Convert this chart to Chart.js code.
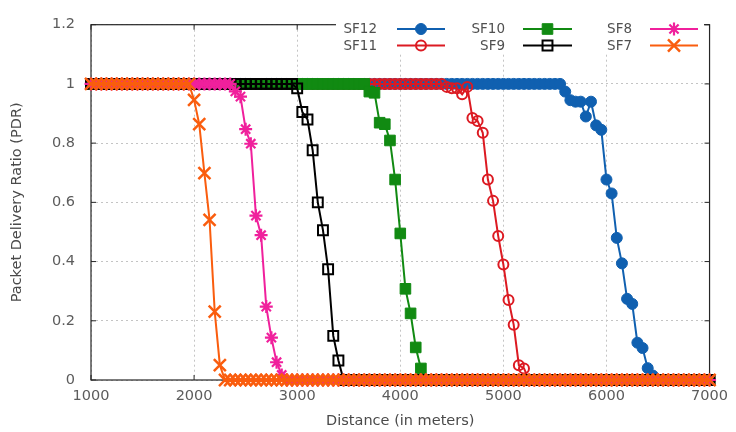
<!DOCTYPE html>
<html>
<head>
<meta charset="utf-8">
<script src="https://cdn.jsdelivr.net/npm/chart.js@4/dist/chart.umd.min.js"></script>
<style>
  html, body { margin: 0; padding: 0; background: #ffffff; }
  #wrap { width: 736px; height: 432px; }
</style>
</head>
<body>
<div id="wrap"><canvas id="pdr" width="736" height="432"></canvas></div>
<script>
// Distance from the gateway (m), one sample every 50 m
const distance = [
  1000, 1050, 1100, 1150, 1200, 1250, 1300, 1350, 1400, 1450,
  1500, 1550, 1600, 1650, 1700, 1750, 1800, 1850, 1900, 1950,
  2000, 2050, 2100, 2150, 2200, 2250, 2300, 2350, 2400, 2450,
  2500, 2550, 2600, 2650, 2700, 2750, 2800, 2850, 2900, 2950,
  3000, 3050, 3100, 3150, 3200, 3250, 3300, 3350, 3400, 3450,
  3500, 3550, 3600, 3650, 3700, 3750, 3800, 3850, 3900, 3950,
  4000, 4050, 4100, 4150, 4200, 4250, 4300, 4350, 4400, 4450,
  4500, 4550, 4600, 4650, 4700, 4750, 4800, 4850, 4900, 4950,
  5000, 5050, 5100, 5150, 5200, 5250, 5300, 5350, 5400, 5450,
  5500, 5550, 5600, 5650, 5700, 5750, 5800, 5850, 5900, 5950,
  6000, 6050, 6100, 6150, 6200, 6250, 6300, 6350, 6400, 6450,
  6500, 6550, 6600, 6650, 6700, 6750, 6800, 6850, 6900, 6950,
  7000
];

// Packet delivery ratio per spreading factor
const pdrSF12 = [
  1, 1, 1, 1, 1, 1, 1, 1, 1, 1,
  1, 1, 1, 1, 1, 1, 1, 1, 1, 1,
  1, 1, 1, 1, 1, 1, 1, 1, 1, 1,
  1, 1, 1, 1, 1, 1, 1, 1, 1, 1,
  1, 1, 1, 1, 1, 1, 1, 1, 1, 1,
  1, 1, 1, 1, 1, 1, 1, 1, 1, 1,
  1, 1, 1, 1, 1, 1, 1, 1, 1, 1,
  1, 1, 1, 1, 1, 1, 1, 1, 1, 1,
  1, 1, 1, 1, 1, 1, 1, 1, 1, 1,
  1, 1, 0.974, 0.945, 0.94, 0.94, 0.89, 0.94, 0.86, 0.845,
  0.677, 0.63, 0.48, 0.394, 0.274, 0.257, 0.126, 0.108, 0.04, 0.015,
  0, 0, 0, 0, 0, 0, 0, 0, 0, 0,
  0
];
const pdrSF11 = [
  1, 1, 1, 1, 1, 1, 1, 1, 1, 1,
  1, 1, 1, 1, 1, 1, 1, 1, 1, 1,
  1, 1, 1, 1, 1, 1, 1, 1, 1, 1,
  1, 1, 1, 1, 1, 1, 1, 1, 1, 1,
  1, 1, 1, 1, 1, 1, 1, 1, 1, 1,
  1, 1, 1, 1, 1, 1, 1, 1, 1, 1,
  1, 1, 1, 1, 1, 1, 1, 1, 1, 0.99,
  0.985, 0.985, 0.965, 0.99, 0.885, 0.875, 0.835, 0.677, 0.605, 0.486,
  0.39, 0.27, 0.187, 0.05, 0.039, 0, 0, 0, 0, 0,
  0, 0, 0, 0, 0, 0, 0, 0, 0, 0,
  0, 0, 0, 0, 0, 0, 0, 0, 0, 0,
  0, 0, 0, 0, 0, 0, 0, 0, 0, 0,
  0
];
const pdrSF10 = [
  1, 1, 1, 1, 1, 1, 1, 1, 1, 1,
  1, 1, 1, 1, 1, 1, 1, 1, 1, 1,
  1, 1, 1, 1, 1, 1, 1, 1, 1, 1,
  1, 1, 1, 1, 1, 1, 1, 1, 1, 1,
  1, 1, 1, 1, 1, 1, 1, 1, 1, 1,
  1, 1, 1, 1, 0.974, 0.97, 0.869, 0.864, 0.809, 0.677,
  0.495, 0.308, 0.225, 0.11, 0.039, 0, 0, 0, 0, 0,
  0, 0, 0, 0, 0, 0, 0, 0, 0, 0,
  0, 0, 0, 0, 0, 0, 0, 0, 0, 0,
  0, 0, 0, 0, 0, 0, 0, 0, 0, 0,
  0, 0, 0, 0, 0, 0, 0, 0, 0, 0,
  0, 0, 0, 0, 0, 0, 0, 0, 0, 0,
  0
];
const pdrSF9 = [
  1, 1, 1, 1, 1, 1, 1, 1, 1, 1,
  1, 1, 1, 1, 1, 1, 1, 1, 1, 1,
  1, 1, 1, 1, 1, 1, 1, 1, 1, 1,
  1, 1, 1, 1, 1, 1, 1, 1, 1, 1,
  0.985, 0.905, 0.88, 0.776, 0.6, 0.506, 0.374, 0.149, 0.066, 0,
  0, 0, 0, 0, 0, 0, 0, 0, 0, 0,
  0, 0, 0, 0, 0, 0, 0, 0, 0, 0,
  0, 0, 0, 0, 0, 0, 0, 0, 0, 0,
  0, 0, 0, 0, 0, 0, 0, 0, 0, 0,
  0, 0, 0, 0, 0, 0, 0, 0, 0, 0,
  0, 0, 0, 0, 0, 0, 0, 0, 0, 0,
  0, 0, 0, 0, 0, 0, 0, 0, 0, 0,
  0
];
const pdrSF8 = [
  1, 1, 1, 1, 1, 1, 1, 1, 1, 1,
  1, 1, 1, 1, 1, 1, 1, 1, 1, 1,
  1, 1, 1, 1, 1, 1, 1, 1, 0.975, 0.957,
  0.847, 0.798, 0.555, 0.489, 0.248, 0.143, 0.06, 0.017, 0, 0,
  0, 0, 0, 0, 0, 0, 0, 0, 0, 0,
  0, 0, 0, 0, 0, 0, 0, 0, 0, 0,
  0, 0, 0, 0, 0, 0, 0, 0, 0, 0,
  0, 0, 0, 0, 0, 0, 0, 0, 0, 0,
  0, 0, 0, 0, 0, 0, 0, 0, 0, 0,
  0, 0, 0, 0, 0, 0, 0, 0, 0, 0,
  0, 0, 0, 0, 0, 0, 0, 0, 0, 0,
  0, 0, 0, 0, 0, 0, 0, 0, 0, 0,
  0
];
const pdrSF7 = [
  1, 1, 1, 1, 1, 1, 1, 1, 1, 1,
  1, 1, 1, 1, 1, 1, 1, 1, 1, 1,
  0.946, 0.864, 0.699, 0.541, 0.231, 0.05, 0, 0, 0, 0,
  0, 0, 0, 0, 0, 0, 0, 0, 0, 0,
  0, 0, 0, 0, 0, 0, 0, 0, 0, 0,
  0, 0, 0, 0, 0, 0, 0, 0, 0, 0,
  0, 0, 0, 0, 0, 0, 0, 0, 0, 0,
  0, 0, 0, 0, 0, 0, 0, 0, 0, 0,
  0, 0, 0, 0, 0, 0, 0, 0, 0, 0,
  0, 0, 0, 0, 0, 0, 0, 0, 0, 0,
  0, 0, 0, 0, 0, 0, 0, 0, 0, 0,
  0, 0, 0, 0, 0, 0, 0, 0, 0, 0,
  0
];

const seriesNames = ['SF12', 'SF11', 'SF10', 'SF9', 'SF8', 'SF7'];
const xTickLabels = ['1000', '2000', '3000', '4000', '5000', '6000', '7000'];
const yTickLabels = ['0', '0.2', '0.4', '0.6', '0.8', '1', '1.2'];

// Line / marker look of each series
const styles = [
  { color: '#1060b0', pointStyle: 'circle',   radius: 5.5, fill: '#1060b0',          bw: 1 },
  { color: '#dc1a22', pointStyle: 'circle',   radius: 5,   fill: 'rgba(0,0,0,0)',    bw: 2 },
  { color: '#118a12', pointStyle: 'rect',     radius: 7.5, fill: '#118a12',          bw: 1 },
  { color: '#000000', pointStyle: 'rect',     radius: 7,   fill: 'rgba(0,0,0,0)',    bw: 2 },
  { color: '#f0209c', pointStyle: 'star',     radius: 6.5, fill: 'rgba(0,0,0,0)',    bw: 2.2 },
  { color: '#fa5d0e', pointStyle: 'crossRot', radius: 8.5, fill: 'rgba(0,0,0,0)',    bw: 2.5 }
];
const seriesValues = [pdrSF12, pdrSF11, pdrSF10, pdrSF9, pdrSF8, pdrSF7];

const datasets = seriesNames.map((name, i) => ({
  label: name,
  data: distance.map((d, k) => ({ x: d, y: seriesValues[i][k] })),
  borderColor: styles[i].color,
  borderWidth: 2,
  pointStyle: styles[i].pointStyle,
  pointRadius: styles[i].radius,
  pointBorderWidth: styles[i].bw,
  pointBorderColor: styles[i].color,
  pointBackgroundColor: styles[i].fill,
  tension: 0,
  clip: false,
  order: seriesNames.length - 1 - i   // SF7 is painted last (on top)
}));

Chart.defaults.font.family = "'DejaVu Sans', 'Liberation Sans', sans-serif";

// Box border with inward tick marks on all four sides
const framePlugin = {
  id: 'frame',
  beforeDatasetsDraw(chart) {
    const { ctx, chartArea: a, scales } = chart;
    ctx.save();
    ctx.strokeStyle = '#262626';
    ctx.lineWidth = 1.2;
    ctx.strokeRect(a.left, a.top, a.right - a.left, a.bottom - a.top);
    ctx.lineWidth = 1;
    const len = 5;
    scales.x.ticks.forEach(t => {
      const px = scales.x.getPixelForValue(t.value);
      ctx.beginPath();
      ctx.moveTo(px, a.bottom); ctx.lineTo(px, a.bottom - len);
      ctx.moveTo(px, a.top); ctx.lineTo(px, a.top + len);
      ctx.stroke();
    });
    scales.y.ticks.forEach(t => {
      const py = scales.y.getPixelForValue(t.value);
      ctx.beginPath();
      ctx.moveTo(a.left, py); ctx.lineTo(a.left + len, py);
      ctx.moveTo(a.right, py); ctx.lineTo(a.right - len, py);
      ctx.stroke();
    });
    ctx.restore();
  }
};

// Key: three columns of two entries, label right-aligned before a line sample
const keyPlugin = {
  id: 'key',
  afterDatasetsDraw(chart) {
    const { ctx } = chart;
    const cols = [
      { textRight: 377, x1: 397, x2: 445 },
      { textRight: 505, x1: 523, x2: 572 },
      { textRight: 632, x1: 650, x2: 698 }
    ];
    const rows = [29, 45.5];
    ctx.save();
    ctx.fillStyle = '#ffffff';
    ctx.fillRect(336, 21, 368, 33);
    ctx.font = "13.5px 'DejaVu Sans', sans-serif";
    ctx.textAlign = 'right';
    ctx.textBaseline = 'middle';
    seriesNames.forEach((name, i) => {
      const c = cols[Math.floor(i / 2)];
      const y = rows[i % 2];
      const s = styles[i];
      ctx.fillStyle = '#505050';
      ctx.fillText(name, c.textRight, y + 0.5);
      ctx.strokeStyle = s.color;
      ctx.lineWidth = 2;
      ctx.beginPath();
      ctx.moveTo(c.x1, y); ctx.lineTo(c.x2, y);
      ctx.stroke();
      ctx.fillStyle = s.fill;
      ctx.strokeStyle = s.color;
      ctx.lineWidth = s.bw;
      Chart.helpers.drawPoint(ctx, {
        pointStyle: s.pointStyle, rotation: 0, radius: s.radius, borderWidth: s.bw
      }, (c.x1 + c.x2) / 2, y);
    });
    ctx.restore();
  }
};

new Chart(document.getElementById('pdr'), {
  type: 'line',
  data: { datasets },
  plugins: [framePlugin, keyPlugin],
  options: {
    responsive: false,
    devicePixelRatio: 1,
    animation: false,
    events: [],
    layout: { padding: { left: 0, right: 19, top: 16, bottom: 0 } },
    plugins: { legend: { display: false }, tooltip: { enabled: false } },
    scales: {
      x: {
        type: 'linear',
        min: 1000, max: 7000,
        afterFit: s => { s.height = 52; },
        afterBuildTicks: s => {
          s.ticks = xTickLabels.map(l => ({ value: Number(l) }));
        },
        ticks: {
          color: '#5c5c5c',
          font: { size: 14.5 },
          padding: 8,
          maxRotation: 0,
          autoSkip: false,
          callback: (v) => xTickLabels[Math.round((v - 1000) / 1000)]
        },
        grid: { color: '#c4c4c4', lineWidth: 1, drawTicks: false },
        border: { display: false, dash: [2, 3] },
        title: {
          display: true, text: 'Distance (in meters)',
          color: '#4a4a4a', font: { size: 14.5 }, padding: { top: 0, bottom: 2 }
        }
      },
      y: {
        type: 'linear',
        min: 0, max: 1.2,
        afterFit: s => { s.width = 91; },
        afterBuildTicks: s => {
          s.ticks = yTickLabels.map(l => ({ value: Number(l) }));
        },
        ticks: {
          color: '#5c5c5c',
          font: { size: 14.5 },
          padding: 16,
          autoSkip: false,
          callback: (v) => yTickLabels[Math.round(v / 0.2)]
        },
        grid: { color: '#c4c4c4', lineWidth: 1, drawTicks: false },
        border: { display: false, dash: [2, 3] },
        title: {
          display: true, text: 'Packet Delivery Ratio (PDR)',
          color: '#4a4a4a', font: { size: 14.5 }, padding: { top: 9, bottom: 0 }
        }
      }
    }
  }
});
</script>
</body>
</html>
